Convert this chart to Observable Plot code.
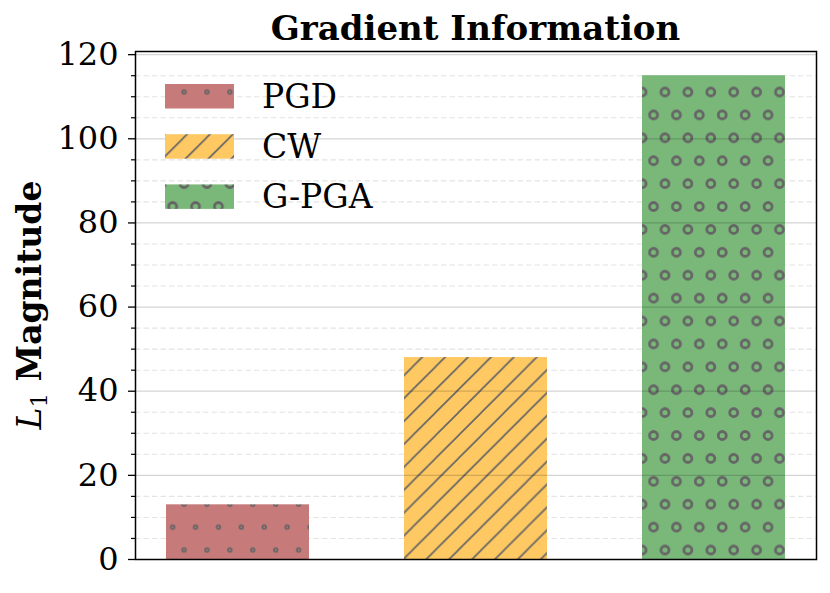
<!DOCTYPE html>
<html><head><meta charset="utf-8">
<script src="https://cdn.jsdelivr.net/npm/d3@7"></script>
<script src="https://cdn.jsdelivr.net/npm/@observablehq/plot@0.6"></script>
<style>body{margin:0;background:#fff} svg{display:block}</style>
</head><body><div id="chart"></div>
<script>
// ---- data ----
const methods = ["PGD", "CW", "G-PGA"];
const values = [13, 48, 115];
const yTicks = [0, 20, 40, 60, 80, 100, 120];
const yMinorTicks = [5, 10, 15, 25, 30, 35, 45, 50, 55, 65, 70, 75, 85, 90, 95, 105, 110, 115];
const barColors = ["#c77a7a", "#fec862", "#7ab87a"];
const hatchKinds = ["o", "/", "O"];
const titleText = "Gradient Information";

const data = methods.map((m, i) => ({method: m, value: values[i], i}));

// ---- style ----
const FONT = "DejaVu Serif";
const HATCH = "#656565";
const P = 22.9;               // hatch repeat (px)
const anchorX = 665, anchorY = 550, lineOffset = 0.8;

function defsMark() {
  const g = d3.create("svg:g");
  const defs = g.append("defs");
  hatchKinds.forEach((k, i) => {
    const pat = defs.append("pattern").attr("id", "hatch" + i).attr("patternUnits", "userSpaceOnUse");
    if (k === "/") {
      pat.attr("x", 0).attr("y", lineOffset).attr("width", P).attr("height", P);
      pat.append("rect").attr("width", P).attr("height", P).attr("fill", barColors[i]);
      pat.append("path")
        .attr("d", `M-2,2L2,-2M0,${P}L${P},0M${P - 2},${P + 2}L${P + 2},${P - 2}`)
        .attr("stroke", HATCH).attr("stroke-width", 1.6).attr("fill", "none");
    } else {
      const r = k === "o" ? 1.8 : 4.0, sw = k === "o" ? 1.8 : 2.8;
      pat.attr("x", anchorX - P / 4).attr("y", anchorY - P / 2).attr("width", P).attr("height", 2 * P);
      pat.append("rect").attr("width", P).attr("height", 2 * P).attr("fill", barColors[i]);
      [[P / 4, P / 2], [3 * P / 4, 3 * P / 2]].forEach(([cx, cy]) =>
        pat.append("circle").attr("cx", cx).attr("cy", cy).attr("r", r)
          .attr("fill", "none").attr("stroke", HATCH).attr("stroke-width", sw));
    }
  });
  return g.node();
}

function legendMark(index, scales, values, dims) {
  const g = d3.create("svg:g").attr("text-anchor", "start");
  const x0 = dims.marginLeft + 30, y0 = dims.marginTop + 33, rowH = 50.2;
  methods.forEach((m, i) => {
    g.append("rect").attr("x", x0).attr("y", y0 + i * rowH).attr("width", 69).attr("height", 24.5)
      .attr("fill", `url(#hatch${i})`);
    g.append("text").attr("x", x0 + 97).attr("y", y0 + i * rowH + 23.9).attr("text-anchor", "start")
      .attr("font-family", FONT).attr("font-size", 33).attr("fill", "black").text(m);
  });
  return g.node();
}

function labelsMark(index, scales, values, dims) {
  const g = d3.create("svg:g");
  const cx = dims.marginLeft + (dims.width - dims.marginLeft - dims.marginRight) / 2;
  g.append("text").attr("x", cx).attr("y", dims.marginTop - 11.5).attr("text-anchor", "middle")
    .attr("font-family", FONT).attr("font-weight", "bold").attr("font-size", 34).attr("fill", "black")
    .text(titleText);
  const cy = dims.marginTop + (dims.height - dims.marginTop - dims.marginBottom) / 2;
  const t = g.append("text").attr("transform", `translate(41,${cy}) rotate(-90)`).attr("text-anchor", "middle")
    .attr("font-family", FONT).attr("font-size", 33).attr("fill", "black");
  t.append("tspan").attr("font-style", "italic").text("L");
  t.append("tspan").attr("font-size", 23).attr("dy", 6).text("1");
  t.append("tspan").attr("font-weight", "bold").attr("dy", -6).text(" Magnitude");
  return g.node();
}

const chart = Plot.plot({
  width: 830,
  height: 593,
  marginLeft: 135,
  marginRight: 14,
  marginTop: 51,
  marginBottom: 34,
  style: {fontFamily: FONT, background: "white", color: "black"},
  x: {domain: methods, paddingInner: 0.4, paddingOuter: 0.128, axis: null},
  y: {domain: [0, 120.75], axis: null},
  marks: [
    defsMark,
    Plot.gridY(yMinorTicks, {stroke: "#e4e4e4", strokeOpacity: 1, strokeWidth: 1.1, strokeDasharray: "5.5,3"}),
    ...data.map(d => Plot.barY([d], {x: "method", y: "value", fill: `url(#hatch${d.i})`})),
    Plot.gridY(yTicks, {stroke: "black", strokeOpacity: 0.17, strokeWidth: 1.2}),
    Plot.axisY(yMinorTicks, {tickSize: 4, text: null, strokeWidth: 1.2, label: null}),
    Plot.axisY(yTicks, {tickSize: 7, tickPadding: 10, fontSize: 32, fontFamily: FONT, strokeWidth: 1.3, label: null}),
    legendMark,
    labelsMark,
    Plot.frame({stroke: "black", strokeWidth: 1.5})
  ]
});
document.getElementById("chart").appendChild(chart);
</script>
</body></html>
